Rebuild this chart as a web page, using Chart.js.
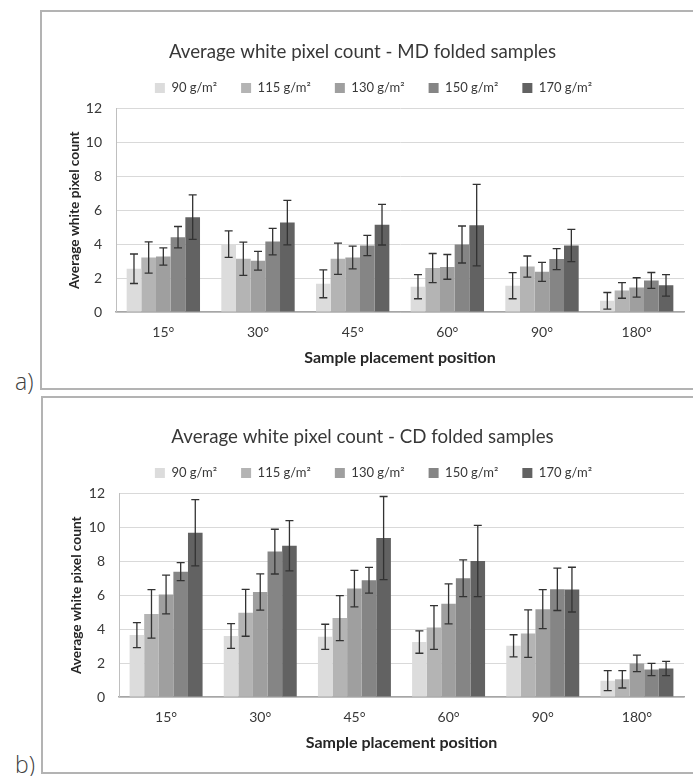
<!DOCTYPE html>
<html>
<head>
<meta charset="utf-8">
<script src="https://cdn.jsdelivr.net/npm/chart.js@4.4.1/dist/chart.umd.min.js"></script>
<style>
  body { margin: 0; width: 693px; height: 776px; overflow: hidden; background: #fff; position: relative; }
  .frame { position: absolute; border: 2px solid #b3b3b3; box-sizing: border-box; }
  canvas { position: absolute; }
  .tag { position: absolute; font-family: "Open Sans"; font-weight: 300; font-size: 23px; line-height: 23px; color: #404040; }
</style>
</head>
<body>
<div class="frame" style="left:40px;top:10px;width:670px;height:380px"></div>
<div class="frame" style="left:41px;top:396px;width:670px;height:378px"></div>
<canvas id="chart-md" width="652" height="377" style="left:41px;top:11px"></canvas>
<canvas id="chart-cd" width="652" height="377" style="left:41px;top:396px"></canvas>
<div class="tag" style="left:15px;top:370px">a)</div>
<div class="tag" style="left:15px;top:753px">b)</div>
<script>
const categories = ["15°", "30°", "45°", "60°", "90°", "180°"];
const seriesLabels = ["90 g/m²", "115 g/m²", "130 g/m²", "150 g/m²", "170 g/m²"];
const yTicks = [0, 2, 4, 6, 8, 10, 12];

// MD folded samples, one row per grammage
const mdMeans = [
    [2.55, 4.00, 1.66, 1.49, 1.55, 0.66],
    [3.21, 3.14, 3.14, 2.59, 2.68, 1.27],
    [3.27, 3.02, 3.21, 2.66, 2.37, 1.45],
    [4.41, 4.15, 3.92, 3.98, 3.12, 1.86],
    [5.59, 5.27, 5.15, 5.12, 3.92, 1.57]
];
const mdErrors = [
    [0.87, 0.78, 0.82, 0.71, 0.77, 0.49],
    [0.92, 0.98, 0.92, 0.86, 0.62, 0.46],
    [0.51, 0.55, 0.67, 0.73, 0.56, 0.57],
    [0.63, 0.78, 0.60, 1.09, 0.62, 0.47],
    [1.31, 1.31, 1.20, 2.40, 0.95, 0.63]
];

// CD folded samples
const cdMeans = [
    [3.65, 3.60, 3.55, 3.24, 3.02, 0.96],
    [4.90, 4.96, 4.65, 4.10, 3.74, 1.04],
    [6.04, 6.19, 6.39, 5.49, 5.18, 1.98],
    [7.39, 8.57, 6.88, 7.00, 6.35, 1.62],
    [9.68, 8.92, 9.37, 8.02, 6.33, 1.68]
];
const cdErrors = [
    [0.74, 0.73, 0.74, 0.66, 0.65, 0.59],
    [1.43, 1.38, 1.33, 1.29, 1.40, 0.51],
    [1.14, 1.07, 1.08, 1.18, 1.15, 0.49],
    [0.53, 1.32, 0.76, 1.08, 1.25, 0.36],
    [1.95, 1.48, 2.45, 2.10, 1.32, 0.42]
];

const barColors = ["#dcdcdc", "#b4b4b4", "#9f9f9f", "#858585", "#626262"];

Chart.defaults.font.family = "Lato, 'Open Sans', sans-serif";

const errorBars = {
    id: "errorBars",
    afterDatasetsDraw(chart) {
        const ctx = chart.ctx;
        const yScale = chart.scales.y;
        ctx.save();
        ctx.strokeStyle = "#333";
        ctx.lineWidth = 1.3;
        chart.data.datasets.forEach((ds, i) => {
            chart.getDatasetMeta(i).data.forEach((bar, j) => {
                const top = yScale.getPixelForValue(ds.data[j] + ds.errors[j]);
                const bottom = yScale.getPixelForValue(ds.data[j] - ds.errors[j]);
                ctx.beginPath();
                ctx.moveTo(bar.x, top); ctx.lineTo(bar.x, bottom);
                ctx.moveTo(bar.x - 4, top); ctx.lineTo(bar.x + 4, top);
                ctx.moveTo(bar.x - 4, bottom); ctx.lineTo(bar.x + 4, bottom);
                ctx.stroke();
            });
        });
        ctx.restore();
    }
};

// a bit more room under the legend, and nudge it right like the original
const legendGap = {
    id: "legendGap",
    beforeInit(chart) {
        const fit = chart.legend.fit;
        chart.legend.fit = function () {
            fit.call(this);
            this.height += 4;
        };
    },
    afterLayout(chart) {
        chart.legend.left += 11;
        chart.legend.right += 11;
    }
};

const makeChart = (id, title, means, errors, axisWidth, yTitlePad) => {
    return new Chart(document.getElementById(id), {
        type: "bar",
        data: {
            labels: categories,
            datasets: seriesLabels.map((label, i) => ({
                label,
                data: means[i],
                errors: errors[i],
                backgroundColor: barColors[i],
                categoryPercentage: 0.775,
                barPercentage: 1
            }))
        },
        options: {
            responsive: false,
            animation: false,
            devicePixelRatio: 1,
            layout: { padding: { left: 0, right: 9, top: 0, bottom: 0 } },
            plugins: {
                title: {
                    display: true,
                    text: title,
                    color: "#383838",
                    font: { size: 18.7, weight: "normal" },
                    padding: { top: 30, bottom: -6 }
                },
                legend: {
                    position: "top",
                    labels: { boxWidth: 10, boxHeight: 10, padding: 24, color: "#383838", font: { size: 13 } }
                },
                tooltip: { enabled: false }
            },
            scales: {
                x: {
                    grid: { display: false, drawTicks: false },
                    border: { color: "#a6a6a6", width: 1.5 },
                    ticks: { color: "#383838", font: { size: 14 }, padding: 12 },
                    title: {
                        display: true,
                        text: "Sample placement position",
                        color: "#262626",
                        font: { size: 16, weight: "bold" },
                        padding: { top: 4, bottom: 21 }
                    },
                    afterFit: scale => { scale.height = 76; }
                },
                y: {
                    min: yTicks[0],
                    max: yTicks[yTicks.length - 1],
                    ticks: { stepSize: yTicks[1] - yTicks[0], color: "#383838", font: { size: 14 }, padding: 14 },
                    grid: { color: "#d9d9d9", drawTicks: false },
                    border: { color: "#bfbfbf" },
                    title: {
                        display: true,
                        text: "Average white pixel count",
                        color: "#262626",
                        font: { size: 13.7, weight: "bold" },
                        padding: { top: yTitlePad, bottom: 0 }
                    },
                    afterFit: scale => { scale.width = axisWidth; }
                }
            }
        },
        plugins: [errorBars, legendGap]
    });
};

makeChart("chart-md", "Average white pixel count - MD folded samples", mdMeans, mdErrors, 75, 25);
makeChart("chart-cd", "Average white pixel count - CD folded samples", cdMeans, cdErrors, 78, 27);
</script>
</body>
</html>
